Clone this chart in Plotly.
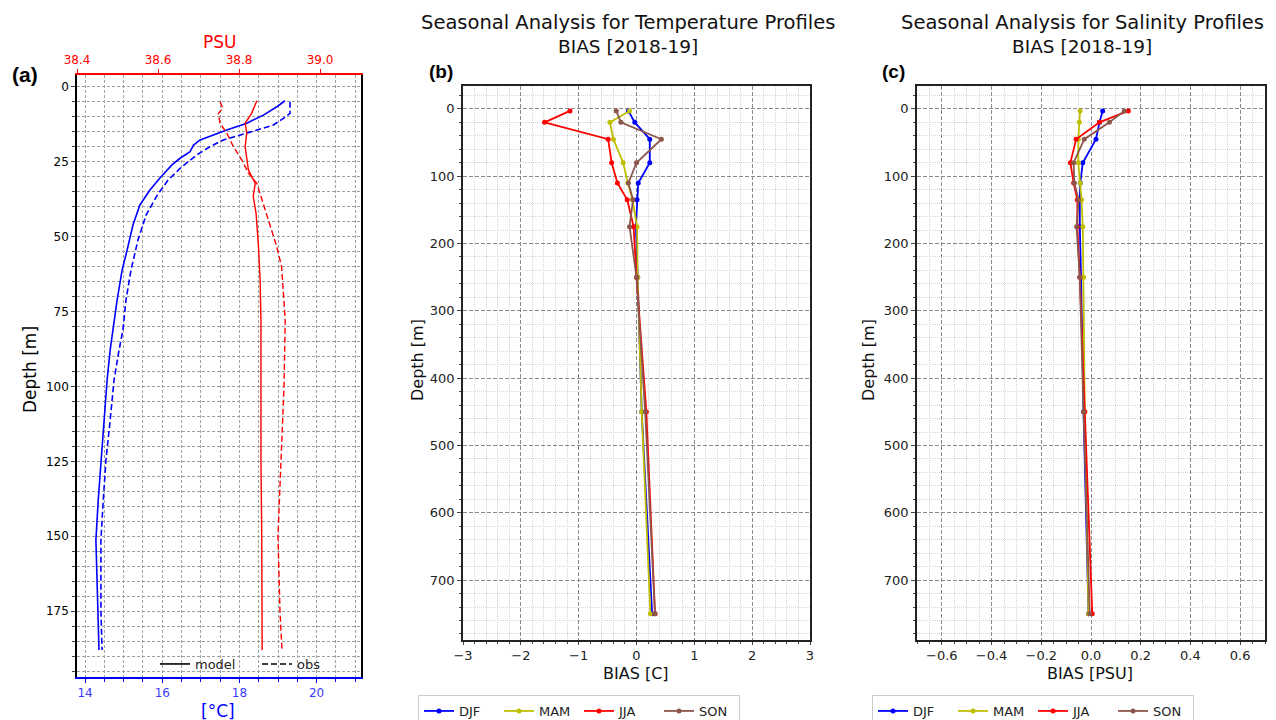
import plotly.graph_objects as go

# ---------------- Panel (a): mean profiles ----------------
t_model_depth = [4.6, 6.6, 9.4, 12.1, 14.4, 16.0, 17.7, 19.4, 21.6, 23.8, 26.0, 30.4, 34.4, 39.4,
                 46.1, 54.4, 61.1, 71.1, 81.2, 87.8, 97.9, 111.2, 124.6, 138.0, 151.3, 164.7, 175.0, 188.0]
t_model = [19.18, 18.97, 18.62, 18.19, 17.67, 17.32, 16.98, 16.81, 16.72, 16.46, 16.25, 15.94, 15.68, 15.42,
           15.24, 15.09, 14.96, 14.83, 14.73, 14.65, 14.57, 14.49, 14.41, 14.34, 14.28, 14.31, 14.34, 14.36]

t_obs_depth = [4.9, 8.8, 10.5, 12.7, 14.4, 16.0, 17.7, 19.9, 22.7, 27.2, 31.1, 36.1, 42.8, 51.1,
               61.1, 71.1, 81.2, 87.8, 97.9, 111.2, 124.6, 138.0, 151.3, 164.7, 175.0, 188.0]
t_obs = [19.31, 19.31, 19.14, 18.88, 18.45, 18.02, 17.58, 17.24, 16.89, 16.46, 16.15, 15.87, 15.58, 15.37,
         15.19, 15.06, 14.98, 14.88, 14.75, 14.65, 14.54, 14.47, 14.41, 14.41, 14.41, 14.44]

s_model_depth = [4.6, 8.8, 12.1, 15.4, 19.9, 27.7, 32.2, 36.6, 42.2, 53.3, 64.5, 77.8, 100.0, 124.6, 150.0, 175.0, 188.0]
s_model = [38.844, 38.831, 38.815, 38.819, 38.815, 38.823, 38.840, 38.835, 38.842, 38.848, 38.852, 38.854,
           38.854, 38.854, 38.856, 38.857, 38.857]

s_obs_depth = [4.9, 7.1, 8.8, 12.1, 15.5, 19.9, 24.4, 28.8, 32.2, 42.2, 53.3, 60.0, 77.8, 100.0, 124.6, 150.0, 164.7, 175.0, 188.0]
s_obs = [38.753, 38.760, 38.749, 38.753, 38.770, 38.786, 38.807, 38.823, 38.844, 38.868, 38.893, 38.905,
         38.914, 38.911, 38.904, 38.896, 38.899, 38.901, 38.906]

# ---------------- Panels (b), (c): seasonal bias ----------------
depths = [3, 20, 45, 80, 110, 135, 175, 250, 450, 750]
seasons = ["DJF", "MAM", "JJA", "SON"]
season_colors = ["#0000ff", "#bfbf00", "#ff0000", "#8c564b"]

temp_bias = {
    "DJF": [-0.14, -0.03, 0.23, 0.23, 0.03, 0.01, -0.01, 0.02, 0.09, 0.27],
    "MAM": [-0.12, -0.46, -0.40, -0.23, -0.15, -0.07, 0.01, 0.02, 0.09, 0.24],
    "JJA": [-1.15, -1.59, -0.49, -0.43, -0.33, -0.16, -0.05, 0.00, 0.17, 0.32],
    "SON": [-0.35, -0.27, 0.43, 0.00, -0.14, -0.06, -0.12, 0.00, 0.15, 0.32],
}
sal_bias = {
    "DJF": [0.047, 0.034, 0.020, -0.033, -0.043, -0.045, -0.045, -0.040, -0.030, -0.010],
    "MAM": [-0.044, -0.047, -0.051, -0.051, -0.043, -0.038, -0.033, -0.030, -0.025, -0.010],
    "JJA": [0.150, 0.034, -0.060, -0.083, -0.070, -0.055, -0.055, -0.045, -0.025, 0.005],
    "SON": [0.134, 0.074, -0.027, -0.070, -0.067, -0.050, -0.058, -0.045, -0.030, -0.005],
}

W, H = 1276, 720


def px_x(x):
    return x / W


def px_y(y):
    return 1 - y / H


fig = go.Figure()

BLUE = "#0000ff"
RED = "#ff0000"
DASH = "6px,3px"

fig.add_trace(go.Scatter(x=t_model, y=t_model_depth, mode="lines", line=dict(color=BLUE, width=1.6),
                         xaxis="x", yaxis="y", showlegend=False))
fig.add_trace(go.Scatter(x=t_obs, y=t_obs_depth, mode="lines", line=dict(color=BLUE, width=1.6, dash=DASH),
                         xaxis="x", yaxis="y", showlegend=False))
fig.add_trace(go.Scatter(x=s_model, y=s_model_depth, mode="lines", line=dict(color=RED, width=1.4),
                         xaxis="x2", yaxis="y", showlegend=False))
fig.add_trace(go.Scatter(x=s_obs, y=s_obs_depth, mode="lines", line=dict(color=RED, width=1.4, dash=DASH),
                         xaxis="x2", yaxis="y", showlegend=False))
# legend for panel (a)
fig.add_trace(go.Scatter(x=[None], y=[None], mode="lines", line=dict(color="black", width=1.6),
                         name="model", xaxis="x", yaxis="y", legend="legend"))
fig.add_trace(go.Scatter(x=[None], y=[None], mode="lines", line=dict(color="black", width=1.6, dash=DASH),
                         name="obs", xaxis="x", yaxis="y", legend="legend"))

for s, c in zip(seasons, season_colors):
    fig.add_trace(go.Scatter(x=temp_bias[s], y=depths, mode="lines+markers", name=s,
                             line=dict(color=c, width=1.8), marker=dict(color=c, size=5),
                             xaxis="x3", yaxis="y3", legend="legend2"))
for s, c in zip(seasons, season_colors):
    fig.add_trace(go.Scatter(x=sal_bias[s], y=depths, mode="lines+markers", name=s,
                             line=dict(color=c, width=1.8), marker=dict(color=c, size=5),
                             xaxis="x4", yaxis="y4", legend="legend3"))

GRID_A = dict(showgrid=True, gridcolor="#a0a0a0", gridwidth=1, griddash="3px,2px")
MAJ = dict(showgrid=True, gridcolor="#8a8a8a", gridwidth=1, griddash="4px,2px")
MIN = dict(showgrid=True, gridcolor="#d6d6d6", gridwidth=1, griddash="1px,1px")
TF = dict(family="DejaVu Sans", size=13, color="#222")

a_dom_x = [px_x(77), px_x(361)]
a_dom_y = [px_y(677), px_y(75)]
b_dom_x = [px_x(463), px_x(810)]
c_dom_x = [px_x(917), px_x(1265)]
bc_dom_y = [px_y(640), px_y(86)]

fig.update_layout(
    width=W, height=H,
    margin=dict(l=0, r=0, t=0, b=0, autoexpand=False),
    paper_bgcolor="white", plot_bgcolor="white",
    font=dict(family="DejaVu Sans", color="black"),
    # panel (a)
    xaxis=dict(domain=a_dom_x, anchor="y", range=[13.79, 21.15], side="bottom",
               showline=True, linecolor=BLUE, linewidth=1.8, mirror=False,
               ticks="outside", ticklen=4, tickcolor=BLUE, tick0=0, dtick=2,
               tickfont=dict(family="DejaVu Sans", size=12, color="#3b3bff"),
               zeroline=False, **GRID_A,
               minor=dict(dtick=0.5, tick0=0, ticks="outside", ticklen=3, tickcolor=BLUE, **GRID_A)),
    xaxis2=dict(overlaying="x", anchor="y", side="top", range=[38.4, 39.101],
                showline=True, linecolor=RED, linewidth=1.8,
                ticks="outside", ticklen=4, tickcolor=RED, tick0=38.4, dtick=0.2, tickformat=".1f",
                tickfont=dict(family="DejaVu Sans", size=12, color=RED),
                showgrid=False, zeroline=False),
    yaxis=dict(domain=a_dom_y, anchor="x", range=[197, -4],
               showline=True, linecolor="black", linewidth=1.5, mirror=True,
               ticks="outside", ticklen=4, tick0=0, dtick=25,
               tickfont=dict(family="DejaVu Sans", size=12, color="black"),
               zeroline=False, **GRID_A,
               minor=dict(dtick=5, tick0=0, ticks="outside", ticklen=3, **GRID_A)),
    # panel (b)
    xaxis3=dict(domain=b_dom_x, anchor="y3", range=[-3, 3], tick0=0, dtick=1,
                showline=True, linecolor="#222", linewidth=1.5, mirror=True,
                ticks="outside", ticklen=3, tickfont=TF, zeroline=False, **MAJ,
                minor=dict(dtick=0.2, tick0=0, ticks="outside", ticklen=2, **MIN)),
    yaxis3=dict(domain=bc_dom_y, anchor="x3", range=[789, -34], tick0=0, dtick=100,
                showline=True, linecolor="#222", linewidth=1.5, mirror=True,
                ticks="outside", ticklen=4, tickfont=TF, zeroline=False, **MAJ,
                minor=dict(dtick=20, tick0=0, ticks="outside", ticklen=2, **MIN)),
    # panel (c)
    xaxis4=dict(domain=c_dom_x, anchor="y4", range=[-0.7, 0.7], tick0=0, dtick=0.2, tickformat=".1f",
                showline=True, linecolor="#222", linewidth=1.5, mirror=True,
                ticks="outside", ticklen=3, tickfont=TF, zeroline=False, **MAJ,
                minor=dict(dtick=0.05, tick0=0, ticks="outside", ticklen=2, **MIN)),
    yaxis4=dict(domain=bc_dom_y, anchor="x4", range=[789, -34], tick0=0, dtick=100,
                showline=True, linecolor="#222", linewidth=1.5, mirror=True,
                ticks="outside", ticklen=4, tickfont=TF, zeroline=False, **MAJ,
                minor=dict(dtick=20, tick0=0, ticks="outside", ticklen=2, **MIN)),
    legend=dict(orientation="h", x=px_x(155), y=px_y(664), xanchor="left", yanchor="middle",
                bgcolor="rgba(0,0,0,0)", borderwidth=0,
                font=dict(family="DejaVu Sans", size=13, color="#222"), entrywidth=57),
    legend2=dict(orientation="h", x=px_x(418), y=px_y(695), xanchor="left", yanchor="top",
                 bgcolor="white", bordercolor="#cccccc", borderwidth=1, entrywidth=35,
                 font=dict(family="DejaVu Sans", size=13, color="#222")),
    legend3=dict(orientation="h", x=px_x(872), y=px_y(695), xanchor="left", yanchor="top",
                 bgcolor="white", bordercolor="#cccccc", borderwidth=1, entrywidth=35,
                 font=dict(family="DejaVu Sans", size=13, color="#222")),
)

ann = []


def add_text(text, x, y, size, color="black", bold=False, angle=0, family="DejaVu Sans"):
    ann.append(dict(text=("<b>%s</b>" % text) if bold else text, x=px_x(x), y=px_y(y),
                    xref="paper", yref="paper", showarrow=False, xanchor="center", yanchor="middle",
                    textangle=angle, font=dict(family=family, size=size, color=color)))


add_text("Seasonal Analysis for Temperature Profiles", 628, 22, 19.5, "#111")
add_text("BIAS [2018-19]", 628, 46, 18.5, "#111")
add_text("Seasonal Analysis for Salinity Profiles", 1082, 22, 19.5, "#111")
add_text("BIAS [2018-19]", 1082, 46, 18.5, "#111")
add_text("(a)", 25, 75, 21, bold=True, family="Liberation Sans")
add_text("(b)", 441, 72, 19, bold=True, family="Liberation Sans")
add_text("(c)", 893, 72, 19, bold=True, family="Liberation Sans")
add_text("PSU", 220, 42, 17, RED)
add_text("[°C]", 218, 711, 17, BLUE)
add_text("Depth [m]", 30, 370, 17, "black", angle=-90)
add_text("Depth [m]", 417, 360, 16, "#111", angle=-90)
add_text("Depth [m]", 868, 360, 16, "#111", angle=-90)
add_text("BIAS [C]", 636, 673, 16, "#111")
add_text("BIAS [PSU]", 1090, 673, 16, "#111")

fig.update_layout(annotations=ann)

fig.write_html("out.html")
